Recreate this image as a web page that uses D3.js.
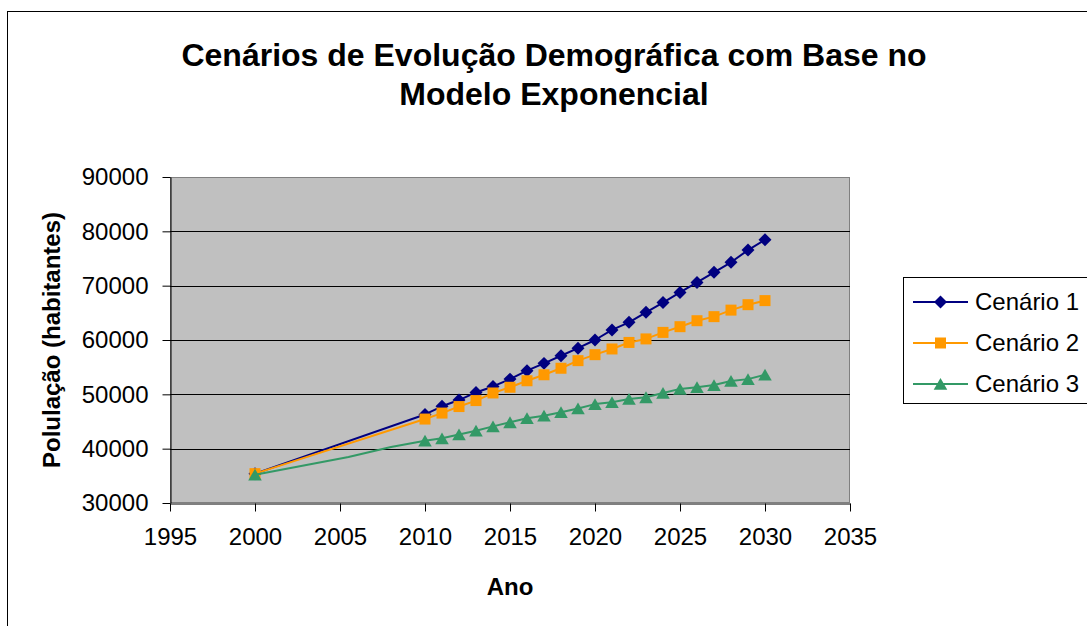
<!DOCTYPE html>
<html>
<head>
<meta charset="utf-8">
<script src="https://cdn.jsdelivr.net/npm/d3@7"></script>
<style>
  body { margin: 0; background: #ffffff; }
  svg text { font-family: "Liberation Sans", Arial, sans-serif; fill: #000; }
</style>
</head>
<body>
<svg id="chart" width="1087" height="626"></svg>
<script>
// anos com marcador (2000 e depois 2010..2030)
const anos = [2000, 2010, 2011, 2012, 2013, 2014, 2015, 2016, 2017, 2018, 2019, 2020,
              2021, 2022, 2023, 2024, 2025, 2026, 2027, 2028, 2029, 2030];

const cenario1 = [35400, 46300, 47800, 48950, 50350, 51450, 52800, 54350, 55700, 57100, 58500, 60000,
                  61850, 63250, 65100, 66900, 68750, 70600, 72450, 74300, 76550, 78450];
const cenario2 = [35400, 45450, 46550, 47750, 48850, 50250, 51300, 52500, 53600, 54800, 56200, 57300,
                  58350, 59550, 60200, 61400, 62450, 63550, 64300, 65500, 66500, 67250];
const cenario3 = [35200, 41450, 41900, 42600, 43300, 44100, 44850, 45600, 46050, 46700, 47400, 48200,
                  48550, 49150, 49450, 50250, 51000, 51300, 51700, 52450, 52800, 53600];

// pontos intermediarios do cenario 3 (sem marcador)
const cenario3Meio = [[2005.5, 38450], [2008, 40300]];

const nomes  = ["Cenário 1", "Cenário 2", "Cenário 3"];
const cores  = ["#000080", "#ff9900", "#339966"];
const ticksX = [1995, 2000, 2005, 2010, 2015, 2020, 2025, 2030, 2035];
const ticksY = [30000, 40000, 50000, 60000, 70000, 80000, 90000];

const titulo = ["Cenários de Evolução Demográfica com Base no", "Modelo Exponencial"];

const desenha = () => {
  let svg = d3.select("#chart");

  let left = 170, right = 850, top = 177, bottom = 503;

  let x = d3.scaleLinear().domain([1995, 2035]).range([left, right]);
  let y = d3.scaleLinear().domain([30000, 90000]).range([bottom, top]);

  // moldura externa
  svg.append("rect")
     .attr("x", 7.5).attr("y", 11.5)
     .attr("width", 1200).attr("height", 700)
     .attr("fill", "#fff").attr("stroke", "#000");

  // titulo
  svg.append("g").selectAll("text")
     .data(titulo)
     .enter().append("text")
     .attr("x", 554)
     .attr("y", (d, i) => 66 + i * 39)
     .attr("text-anchor", "middle")
     .attr("font-size", 32)
     .attr("font-weight", "bold")
     .text(d => d);

  // area do grafico
  svg.append("rect")
     .attr("x", left + 0.5).attr("y", top + 0.5)
     .attr("width", right - left - 1).attr("height", bottom - top - 1)
     .attr("fill", "#c0c0c0").attr("stroke", "#808080");

  // grade
  svg.append("g").selectAll("line")
     .data(ticksY.filter(v => v > 30000 && v < 90000))
     .enter().append("line")
     .attr("x1", left).attr("x2", right)
     .attr("y1", d => Math.round(y(d)) + 0.5)
     .attr("y2", d => Math.round(y(d)) + 0.5)
     .attr("stroke", "#000");

  // eixos
  let gx = svg.append("g")
     .attr("transform", "translate(0," + (bottom + 0.5) + ")")
     .call(d3.axisBottom(x).tickValues(ticksX).tickFormat(d3.format("d")).tickSize(8).tickSizeOuter(0).tickPadding(16));
  let gy = svg.append("g")
     .attr("transform", "translate(" + (left + 0.5) + ",0)")
     .call(d3.axisLeft(y).tickValues(ticksY).tickFormat(d3.format("d")).tickSize(8).tickSizeOuter(0).tickPadding(14));

  [gx, gy].forEach(g => {
    g.selectAll("text").attr("font-size", 24).attr("font-family", "Liberation Sans, Arial, sans-serif").attr("fill", "#000");
    g.selectAll("line, path").attr("stroke", "#000");
  });

  // titulos dos eixos
  svg.append("text")
     .attr("x", 510).attr("y", 595)
     .attr("text-anchor", "middle")
     .attr("font-size", 24).attr("font-weight", "bold")
     .text("Ano");
  svg.append("text")
     .attr("transform", "translate(60," + ((top + bottom) / 2) + ") rotate(-90)")
     .attr("text-anchor", "middle")
     .attr("font-size", 24).attr("font-weight", "bold")
     .text("Polulação (habitantes)");

  // marcadores
  const marcador = (g, i, cx, cy) => {
    if (i === 0) {
      g.append("path")
       .attr("d", d3.symbol(d3.symbolSquare, 84)())
       .attr("transform", "translate(" + cx + "," + cy + ") rotate(45)")
       .attr("fill", cores[i]);
    } else if (i === 1) {
      g.append("path")
       .attr("d", d3.symbol(d3.symbolSquare, 121)())
       .attr("transform", "translate(" + cx + "," + cy + ")")
       .attr("fill", cores[i]);
    } else {
      g.append("path")
       .attr("d", d3.symbol(d3.symbolTriangle, 80)())
       .attr("transform", "translate(" + cx + "," + (cy + 1.9) + ")")
       .attr("fill", cores[i]);
    }
  };

  let series = [cenario1, cenario2, cenario3];
  let linha = d3.line().x(d => x(d[0])).y(d => y(d[1]));

  series.forEach((valores, i) => {
    let pontos = anos.map((a, k) => [a, valores[k]]);
    let pontosLinha = pontos.slice();
    if (i === 2) pontosLinha.splice(1, 0, ...cenario3Meio);

    let g = svg.append("g");
    g.append("path")
     .attr("d", linha(pontosLinha))
     .attr("fill", "none")
     .attr("stroke", cores[i])
     .attr("stroke-width", 2)
     .attr("stroke-linejoin", "round");

    pontos.forEach(p => marcador(g, i, x(p[0]), y(p[1])));
  });

  // legenda
  svg.append("rect")
     .attr("x", 903.5).attr("y", 277.5)
     .attr("width", 300).attr("height", 126)
     .attr("fill", "#fff").attr("stroke", "#000");

  nomes.forEach((nome, i) => {
    let ly = 302 + i * 41;
    let g = svg.append("g");
    g.append("line")
     .attr("x1", 913).attr("x2", 968)
     .attr("y1", ly).attr("y2", ly)
     .attr("stroke", cores[i]).attr("stroke-width", 2);
    marcador(g, i, 940.5, ly);
    g.append("text")
     .attr("x", 975).attr("y", ly + 8)
     .attr("font-size", 24)
     .text(nome);
  });
}

desenha();
</script>
</body>
</html>
